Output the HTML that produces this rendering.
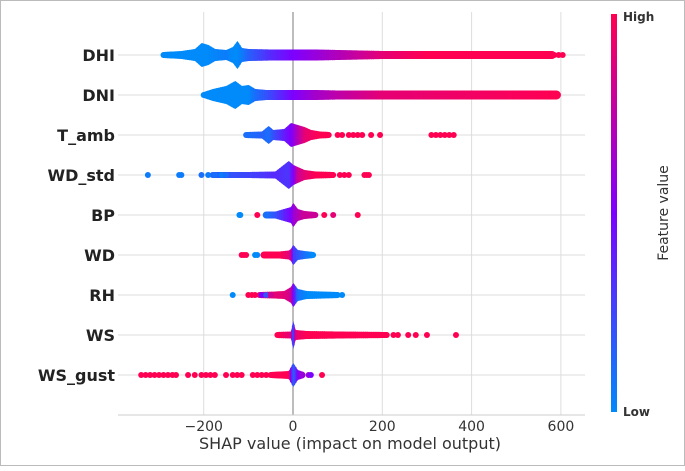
<!DOCTYPE html>
<html><head><meta charset="utf-8"><style>
body{margin:0;background:#fff}
svg text{font-family:"DejaVu Sans","Liberation Sans",sans-serif}
</style></head><body>
<svg id="chart" width="685" height="466" xmlns="http://www.w3.org/2000/svg">
<defs><linearGradient id="cb" x1="0" y1="1" x2="0" y2="0">
<stop offset="0" stop-color="rgb(0,138,250)"/><stop offset="0.5" stop-color="rgb(125,0,255)"/><stop offset="1" stop-color="rgb(255,0,82)"/></linearGradient></defs>
<rect x="0.5" y="0.5" width="684" height="465" fill="#fff" stroke="#bbb"/>
<g id="grid"></g><g id="marks"></g><g id="labels"></g>
<rect x="611" y="14" width="6" height="398" fill="url(#cb)"/>
<text x="623" y="21" font-size="12" font-weight="bold" fill="#333">High</text>
<text x="623" y="416" font-size="12" font-weight="bold" fill="#333">Low</text>
<text transform="translate(668,213) rotate(-90)" text-anchor="middle" font-size="14" fill="#333">Feature value</text>
<text x="350" y="449" text-anchor="middle" font-size="16" fill="#333">SHAP value (impact on model output)</text>
</svg>
<script>
const features = ["DHI","DNI","T_amb","WD_std","BP","WD","RH","WS","WS_gust"];
const xTicks = [-200,0,200,400,600];
// profiles: [shap value, half-width px, feature value 0..1]
const profDHI = [[-290,3,0],[-250,4,0],[-220,6,0],[-205,12,0],[-190,10,0],[-175,6,0.02],[-150,5,0.05],[-135,8,0],[-125,14,0],[-115,7,0.05],[-100,6,0.15],[-50,5.5,0.35],[0,5.5,0.5],[50,5.5,0.6],[100,5,0.7],[150,4.5,0.8],[200,4,0.9],[300,4,1],[580,4,1]];
const profDNI = [[-200,3,0],[-180,6,0],[-150,9,0],[-130,14,0],[-115,9,0],[-100,10,0],[-85,6,0.1],[-60,5,0.2],[0,5,0.5],[50,5,0.65],[100,4.5,0.75],[200,4.5,0.9],[590,4.5,1]];
const profTamb = [[-105,3,0.1],[-70,3.5,0.15],[-55,9,0.1],[-45,5,0.2],[-20,6,0.4],[-5,12,0.5],[10,10,0.7],[25,8,0.9],[40,5,0.95],[60,3.5,1],[80,3,1]];
const profWDstd = [[-180,3,0.15],[-100,3,0.25],[-40,3.5,0.35],[-10,14,0.3],[0,10,0.5],[10,8,0.8],[25,5,0.9],[50,3.5,1],[90,3,1]];
const profBP = [[-60,3.5,0.1],[-40,3.5,0.2],[-5,8,0.5],[0,12,0.6],[10,6,0.7],[25,4,0.8],[50,3,0.8]];
const profWD = [[-65,3.5,1],[-30,3.5,1],[-10,4.5,0.9],[-5,6,0.8],[0,10,0.3],[10,5,0.2],[25,4,0.1],[45,3,0]];
const profRH = [[-75,3,0.9],[-40,3.5,0.9],[-20,4,0.9],[-5,8,0.8],[0,12,0.5],[10,6,0.1],[30,4,0],[100,3,0]];
const profWS = [[-35,3,1],[-5,3.5,0.9],[0,14,0.1],[5,5,0.9],[30,4,1],[100,3.5,1],[210,3,1]];
const profWSgust = [[-50,3,1],[-10,4,1],[0,12,0.1],[10,5,0.5],[20,3.5,0.6]];
const profiles = [profDHI,profDNI,profTamb,profWDstd,profBP,profWD,profRH,profWS,profWSgust];
// outlier dots: [shap value, feature value]
const dotsDHI = [[585,1],[595,1],[604,1]];
const dotsDNI = [];
const dotsTamb = [[100,1],[110,1],[125,1],[135,1],[145,1],[155,1],[175,1],[195,1],[310,1],[320,1],[330,1],[340,1],[350,1],[360,1]];
const dotsWDstd = [[-325,0.05],[-255,0.05],[-250,0.05],[-205,0.1],[-190,0.05],[-175,0.1],[-160,0.05],[-150,0.1],[105,1],[115,1],[125,1],[160,1],[165,1],[170,1]];
const dotsBP = [[-120,0],[-118,0],[-80,1],[25,0.8],[45,0.8],[70,1],[90,0.9],[145,1]];
const dotsWD = [[-115,1],[-110,1],[-105,1],[-85,0],[-80,0],[-65,1]];
const dotsRH = [[-135,0],[-100,1],[-92,1],[-85,1],[-70,0.5],[-60,0.2],[-50,0.8],[110,0]];
const dotsWS = [[225,1],[235,1],[258,1],[275,1],[300,1],[365,1]];
const dotsWSgust = [[-340,1],[-330,1],[-320,1],[-310,1],[-300,1],[-290,1],[-280,1],[-270,1],[-262,1],[-235,1],[-220,1],[-205,1],[-195,1],[-185,1],[-175,1],[-150,1],[-135,1],[-125,1],[-115,1],[-90,1],[-80,1],[-70,1],[-60,1],[35,0.6],[40,0.5],[65,1]];
const dots = [dotsDHI,dotsDNI,dotsTamb,dotsWDstd,dotsBP,dotsWD,dotsRH,dotsWS,dotsWSgust];

const NS="http://www.w3.org/2000/svg";
const X0=293, K=0.4465, Y0=55, DY=40;
const xs=v=>X0+v*K, ys=i=>Y0+i*DY;
function col(t){t=Math.max(0,Math.min(1,t));let a,b,u;
 const c0=[0,138,250],c1=[125,0,255],c2=[255,0,82];
 if(t<0.5){a=c0;b=c1;u=t/0.5}else{a=c1;b=c2;u=(t-0.5)/0.5}
 return `rgb(${a.map((v,i)=>Math.round(v+(b[i]-v)*u)).join(',')})`;}
function mk(tag,attrs,parent){const e=document.createElementNS(NS,tag);for(const k in attrs)e.setAttribute(k,attrs[k]);parent.appendChild(e);return e;}
const grid=document.getElementById('grid'),marks=document.getElementById('marks'),labels=document.getElementById('labels');
xTicks.forEach(t=>{
 const l=mk('line',{x1:xs(t),x2:xs(t),y1:12,y2:415,stroke:t===0?'#999':'#ddd','stroke-width':t===0?1.3:1},grid);
 
 
 const tx=mk('text',{x:xs(t),y:431,'text-anchor':'middle','font-size':14,fill:'#333'},labels);
 tx.textContent=t<0?'\u2212'+(-t):String(t);
 
 
});
const ax=mk('line',{x1:118,x2:585,y1:415,y2:415,stroke:'#ccc'},grid);


features.forEach((f,i)=>{
 const y=ys(i);
 const g=mk('line',{x1:118,x2:585,y1:y,y2:y,stroke:'#ddd'},grid);
 
 
 const lb=mk('text',{x:115,y:y+6,'text-anchor':'end','font-size':16,'font-weight':'bold',fill:'#222'},labels);
 lb.textContent=f;
 
 
 const grp=mk('g',{},marks);
 
 
 const p=profiles[i];
 for(let j=0;j<p.length-1;j++){
  const a=p[j],b=p[j+1];
  const x1=xs(a[0]),x2=xs(b[0]);
  const n=Math.max(1,Math.ceil((x2-x1)/2));
  for(let s=0;s<n;s++){
   const u=s/n,u2=(s+1)/n;
   const h1=a[1]+(b[1]-a[1])*u,h2=a[1]+(b[1]-a[1])*u2;
   const c=col(a[2]+(b[2]-a[2])*(u+u2)/2);
   const xa=x1+(x2-x1)*u,xb=x1+(x2-x1)*u2;
   const poly=mk('polygon',{points:`${xa},${y-h1} ${xb+0.6},${y-h2} ${xb+0.6},${y+h2} ${xa},${y+h1}`,fill:c},grp);
   
   
  }
 }
 const first=p[0],last=p[p.length-1];
 [first,last].forEach(q=>{const c=mk('circle',{cx:xs(q[0]),cy:y,r:Math.max(3,q[1]),fill:col(q[2])},grp);
  
  });
 dots[i].forEach(d=>{
  const c=mk('circle',{cx:xs(d[0]),cy:y,r:3,fill:col(d[1])},grp);
  
  
 });
});
</script>
</body></html>
